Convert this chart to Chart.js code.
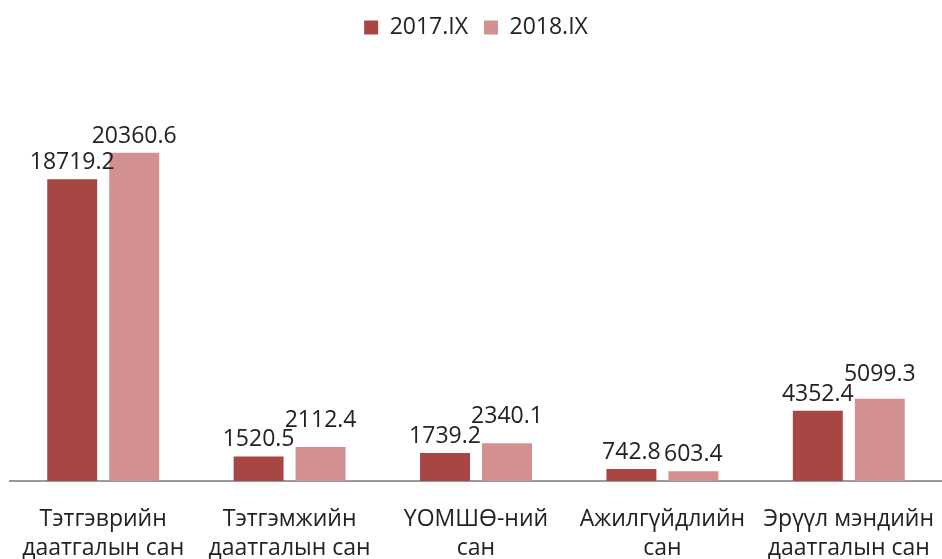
<!DOCTYPE html>
<html lang="mn">
<head>
    <meta charset="UTF-8">
    <title>Даатгалын сангууд</title>
    <style>
        body {
            margin: 0;
            background: #ffffff;
        }
        #chart {
            display: block;
        }
    </style>
</head>
<body>
    <canvas id="chart" width="942" height="559"></canvas>

    <script src="https://cdn.jsdelivr.net/npm/chart.js"></script>
    <script>
        // data
        const categories = [
            ['Тэтгэврийн', 'даатгалын сан'],
            ['Тэтгэмжийн', 'даатгалын сан'],
            ['ҮОМШӨ-ний', 'сан'],
            ['Ажилгүйдлийн', 'сан'],
            ['Эрүүл мэндийн', 'даатгалын сан']
        ];
        const seriesNames = ['2017.IX', '2018.IX'];
        const values2017 = [18719.2, 1520.5, 1739.2, 742.8, 4352.4];
        const values2018 = [20360.6, 2112.4, 2340.1, 603.4, 5099.3];

        const fontName = '"Open Sans", "DejaVu Sans", sans-serif';
        const textColor = '#222222';

        // values above each bar; the second label moves up when it would hit the first
        const barValues = {
            id: 'barValues',
            afterDatasetsDraw(chart) {
                const ctx = chart.ctx;
                const size = 23;
                ctx.save();
                ctx.font = size + 'px ' + fontName;
                ctx.fillStyle = textColor;
                ctx.textAlign = 'center';
                ctx.textBaseline = 'alphabetic';
                const capH = size * 0.72;
                const first = chart.getDatasetMeta(0).data;
                const second = chart.getDatasetMeta(1).data;
                first.forEach((bar, j) => {
                    const t1 = values2017[j].toFixed(1);
                    const t2 = values2018[j].toFixed(1);
                    const w1 = ctx.measureText(t1).width;
                    const w2 = ctx.measureText(t2).width;
                    const y1 = bar.y - 10;
                    let y2 = second[j].y - 10;
                    const b2 = second[j];
                    const overlapX = (bar.x + w1 / 2) > (b2.x - w2 / 2);
                    const overlapY = y2 > y1 - capH - 3;
                    if (overlapX && overlapY) {
                        y2 = y1 - capH - 3;
                    }
                    ctx.fillText(t1, bar.x, y1);
                    ctx.fillText(t2, b2.x, y2);
                });
                ctx.restore();
            }
        };

        // extra room under the legend
        const legendGap = {
            id: 'legendGap',
            beforeInit(chart) {
                const fit = chart.legend.fit;
                chart.legend.fit = function () {
                    fit.bind(chart.legend)();
                    this.height += 29;
                };
            }
        };

        new Chart(document.getElementById('chart'), {
            type: 'bar',
            data: {
                labels: categories,
                datasets: [
                    {
                        label: seriesNames[0],
                        data: values2017,
                        backgroundColor: '#a84644'
                    },
                    {
                        label: seriesNames[1],
                        data: values2018,
                        backgroundColor: '#d39090'
                    }
                ]
            },
            options: {
                responsive: false,
                animation: false,
                layout: {
                    padding: { top: 0, left: 10, right: 0, bottom: 0 }
                },
                datasets: {
                    bar: {
                        categoryPercentage: 0.665,
                        barPercentage: 0.806
                    }
                },
                plugins: {
                    legend: {
                        position: 'top',
                        labels: {
                            font: { family: fontName, size: 23 },
                            color: textColor,
                            boxWidth: 14,
                            boxHeight: 14,
                            padding: 16
                        }
                    },
                    tooltip: { enabled: false }
                },
                scales: {
                    x: {
                        grid: { display: false, drawTicks: false },
                        border: { display: true, color: '#9a9a9a', width: 2 },
                        ticks: {
                            font: { family: fontName, size: 23, lineHeight: 1.26 },
                            color: textColor,
                            padding: 24,
                            maxRotation: 0
                        },
                        afterFit(scale) {
                            scale.height = 78;
                            scale.paddingLeft = 0;
                            scale.paddingRight = 0;
                        }
                    },
                    y: {
                        display: false,
                        min: 0,
                        max: 25000
                    }
                }
            },
            plugins: [barValues, legendGap]
        });
    </script>
</body>
</html>
